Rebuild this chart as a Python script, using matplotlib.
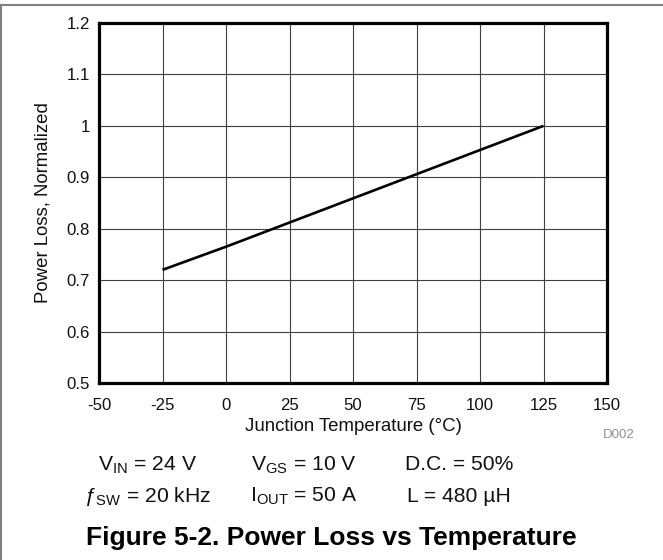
import matplotlib
matplotlib.use("Agg")
import matplotlib.pyplot as plt
from matplotlib.lines import Line2D

plt.rcParams['font.family'] = ['Liberation Sans', 'DejaVu Sans']
plt.rcParams['mathtext.fontset'] = 'custom'
plt.rcParams['mathtext.rm'] = 'Liberation Sans'
plt.rcParams['mathtext.it'] = 'Liberation Sans:italic'

# data
temperature = [-25, 0, 25, 50, 75, 100, 125]
power_loss = [0.72, 0.765, 0.812, 0.859, 0.906, 0.953, 1.0]

x_ticks = [-50, -25, 0, 25, 50, 75, 100, 125, 150]
y_ticks = [0.5, 0.6, 0.7, 0.8, 0.9, 1.0, 1.1, 1.2]
y_tick_labels = ["0.5", "0.6", "0.7", "0.8", "0.9", "1", "1.1", "1.2"]

conditions = [
    [r"V$_\mathrm{IN}$ = 24 V", r"V$_\mathrm{GS}$ = 10 V", "D.C. = 50%"],
    [r"ƒ$_\mathrm{SW}$ = 20 kHz", r"I$_\mathrm{OUT}$ = 50 A", "L = 480 µH"],
]
col_x = [0.2232, 0.4585, 0.6923]
row_y = [1 - 465 / 560, 1 - 496 / 560]

fig = plt.figure(figsize=(6.63, 5.6), dpi=100)
ax = fig.add_axes([99 / 663, 1 - 383 / 560, 508 / 663, 360 / 560])

ax.plot(temperature, power_loss, color='black', linewidth=1.9,
        solid_capstyle='butt')

ax.set_xlim(-50, 150)
ax.set_ylim(0.5, 1.2)
ax.set_xticks(x_ticks)
ax.set_xticklabels([str(t) for t in x_ticks])
ax.set_yticks(y_ticks)
ax.set_yticklabels(y_tick_labels)

ax.grid(True, color='#404040', linewidth=0.8)
ax.set_axisbelow(True)
for sp in ax.spines.values():
    sp.set_linewidth(2.3)
    sp.set_color('black')

ax.tick_params(axis='both', length=0, labelsize=12.1, colors='#111111')
ax.tick_params(axis='x', pad=10.5)
ax.tick_params(axis='y', pad=6.5)

ax.set_xlabel("Junction Temperature (°C)", fontsize=13.4, labelpad=4,
              color='#111111')
ax.set_ylabel("Power Loss, Normalized", fontsize=13.4, labelpad=11,
              color='#111111')

fig.text(619 / 663, 1 - 435 / 560, "D002", fontsize=9.5, color='#909090',
         ha='center', va='center')

for r, row in enumerate(conditions):
    for c, txt in enumerate(row):
        fig.text(col_x[c], row_y[r], txt, fontsize=15.2, ha='center',
                 va='center', color='#111111')

fig.text(0.5, 1 - 537.5 / 560, "Figure 5-2. Power Loss vs Temperature",
         fontsize=19, fontweight='bold', ha='center', va='center')

# outer frame: top and left edges only
fig.add_artist(Line2D([0, 1], [1 - 4.5 / 560, 1 - 4.5 / 560],
                      transform=fig.transFigure, color='#808080', linewidth=1.5))
fig.add_artist(Line2D([0.7 / 663, 0.7 / 663], [0, 1 - 4.5 / 560],
                      transform=fig.transFigure, color='#808080', linewidth=1.5))

fig.savefig("out.png", dpi=100)
